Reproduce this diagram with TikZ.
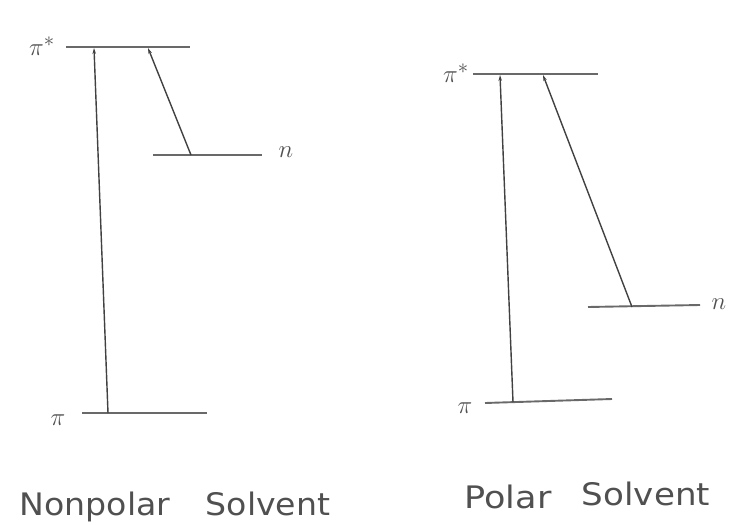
\documentclass[tikz,border=0pt]{standalone}
\usepackage{fontspec}
\setsansfont{DejaVu Sans}
\usetikzlibrary{arrows.meta}
\definecolor{lvl}{RGB}{105,105,105}
\definecolor{arr}{RGB}{65,65,65}
\definecolor{txt}{RGB}{80,80,80}
\tikzset{
  level/.style={draw=lvl, line width=1.9pt},
  trans/.style={draw=arr, line width=1.4pt, -{Stealth[length=6pt,width=3.5pt]}},
  orb/.style={inner sep=0pt, text=txt, font=\fontsize{30}{34}\selectfont},
  caption/.style={inner sep=0pt, anchor=base, text=txt, font=\sffamily\fontsize{31}{36}\selectfont}
}
\begin{document}
\begin{tikzpicture}[x=1pt,y=-1pt]
\useasboundingbox (0,0) rectangle (735,524);
% ---------- Nonpolar ----------
\coordinate (psL1) at (66,47);   \coordinate (psL2) at (190,47);
\coordinate (nL1) at (153,155);  \coordinate (nL2) at (262,155);
\coordinate (pL1) at (82,413);   \coordinate (pL2) at (207,413);
\draw[level] (psL1) -- (psL2);
\draw[level] (nL1) -- (nL2);
\draw[level] (pL1) -- (pL2);
\node[orb] (lpsL) at (42,46) {$\pi^{*}$};
\node[orb] (lnL) at (286,152) {$n$};
\node[orb] (lpL) at (58,420) {$\pi$};
\coordinate (aL0) at (108,413); \coordinate (aL1) at (94,48);
\coordinate (bL0) at (191,155); \coordinate (bL1) at (148,48);
\draw[trans] (aL0) -- (aL1);
\draw[trans] (bL0) -- (bL1);
% ---------- Polar ----------
\coordinate (psR1) at (473,74);  \coordinate (psR2) at (598,74);
\coordinate (nR1) at (588,307);  \coordinate (nR2) at (700,305);
\coordinate (pR1) at (485,403);  \coordinate (pR2) at (612,399);
\draw[level] (psR1) -- (psR2);
\draw[level] (nR1) -- (nR2);
\draw[level] (pR1) -- (pR2);
\node[orb] (lpsR) at (456,73) {$\pi^{*}$};
\node[orb] (lnR) at (719,304) {$n$};
\node[orb] (lpR) at (465,408) {$\pi$};
\coordinate (aR0) at (513,402); \coordinate (aR1) at (500,75);
\coordinate (bR0) at (632,307); \coordinate (bR1) at (543,75);
\draw[trans] (aR0) -- (aR1);
\draw[trans] (bR0) -- (bR1);
% ---------- captions ----------
\node[caption] (c1) at (95,515) {\scalebox{1.07}[1]{Nonpolar}};
\node[caption] (c2) at (268,515) {\scalebox{1.07}[1]{Solvent}};
\node[caption] (c3) at (508,508) {\scalebox{1.13}[1]{Polar}};
\node[caption] (c4) at (646,505) {\scalebox{1.1}[1]{Solvent}};
\end{tikzpicture}
\end{document}
